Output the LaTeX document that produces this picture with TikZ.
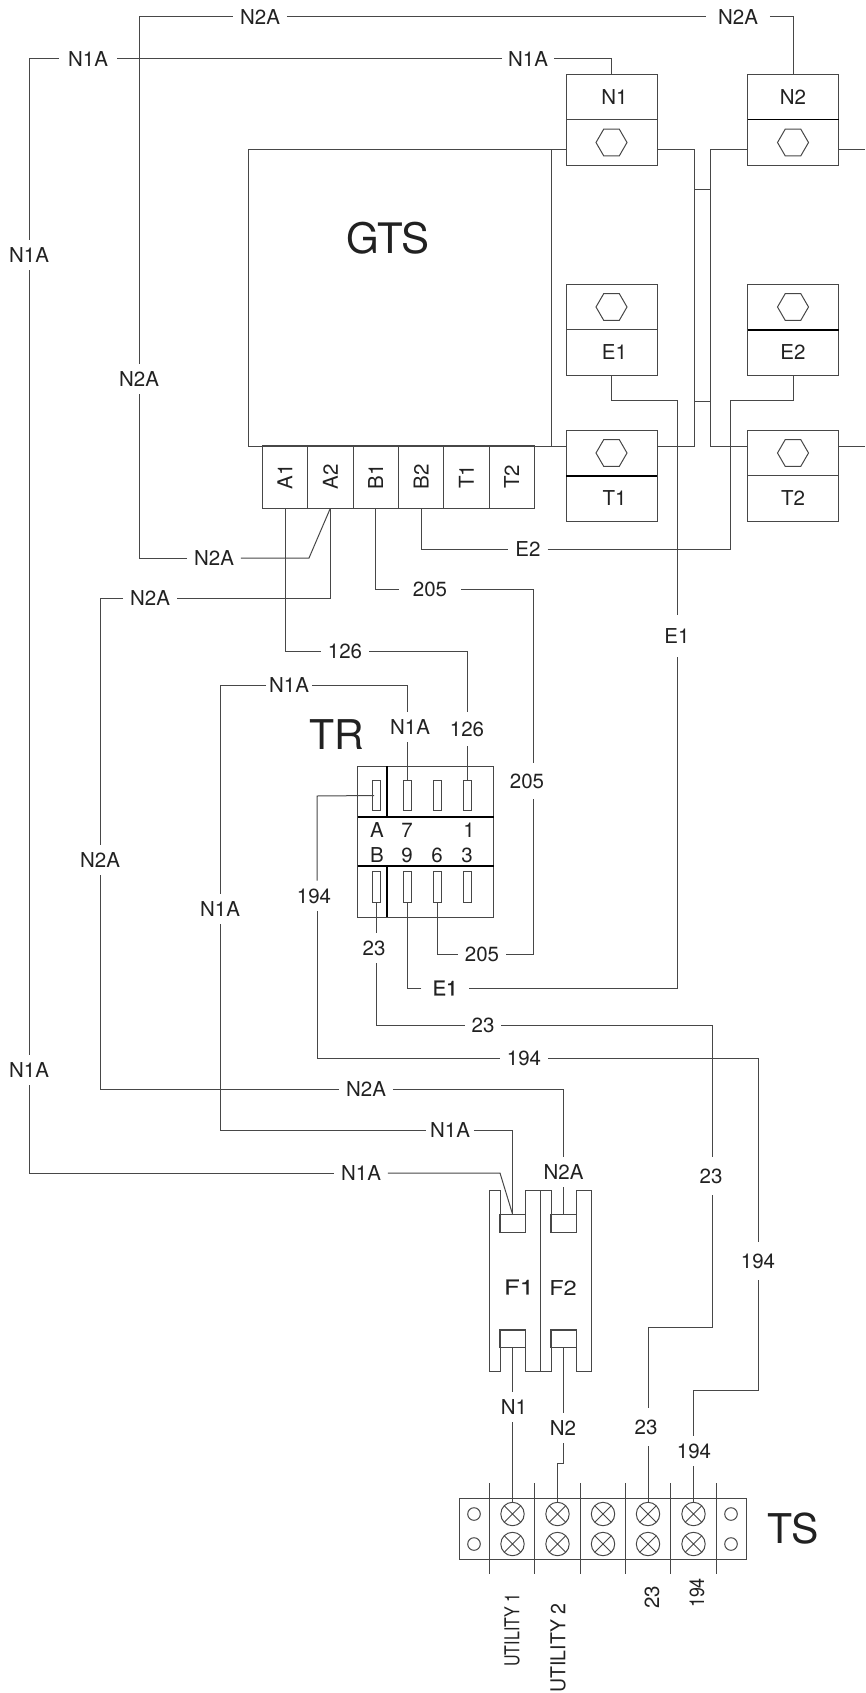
\documentclass[tikz,border=0pt]{standalone}
\usepackage{graphicx}
\usepackage{fontspec}
\setmainfont{TeX Gyre Heros}
\newfontfamily\semibold[FakeBold=0.6]{TeX Gyre Heros}
\usetikzlibrary{positioning,shapes.geometric}
\definecolor{wirecol}{gray}{0.28}
\definecolor{inkcol}{gray}{0.13}

\begin{document}
\begin{tikzpicture}[x=1pt,y=-1pt,line width=1pt,draw=wirecol,text=inkcol,
    lbl/.style={inner xsep=7pt,inner ysep=8pt,outer sep=0pt,font=\fontsize{20.5}{22}\selectfont},
    biglbl/.style={inner sep=0pt,font=\fontsize{41}{42}\selectfont},
    half/.style={draw,rectangle,outer sep=0pt,inner sep=0pt,minimum width=91pt,minimum height=45.5pt,font=\fontsize{20.5}{22}\selectfont},
    bolt/.style={draw,regular polygon,regular polygon sides=6,inner sep=0pt,minimum size=31pt},
    term/.style={draw,rectangle,outer sep=0pt,inner sep=0pt,minimum width=45.35pt,minimum height=62.5pt,font=\fontsize{20.5}{22}\selectfont},
    slot/.style={draw,rectangle,outer sep=0pt,inner sep=0pt,minimum width=8pt,minimum height=30.5pt},
    contact/.style={draw,rectangle,outer sep=0pt,inner sep=0pt,minimum width=25.5pt},
    screw/.style={draw,circle,outer sep=0pt,inner sep=0pt,minimum size=23.4pt,path picture={
        \draw (path picture bounding box.north west) -- (path picture bounding box.south east)
        (path picture bounding box.north east) -- (path picture bounding box.south west);}},
    pin/.style={draw,circle,outer sep=0pt,inner sep=0pt,minimum size=12.6pt},
    heavy/.style={line width=1.5pt,draw=black}]
    \useasboundingbox (0,0) rectangle (865,1693);

    \node [draw, rectangle, outer sep=0pt, minimum width=303pt, minimum height=296pt] (GTS) at (399.5,298) {};
    \node [biglbl, font=\fontsize{42}{43}\selectfont] (GTSname) at (388,238) {GTS};
    \node [half] (N1) at (611.5,97) {\hspace{6pt}N1}; \node [half, below=0pt of N1] (N1bolt) {};
    \node [half] (N2) at (793,97) {N2}; \node [half, below=0pt of N2] (N2bolt) {};
    \node [half] (E1bolt) at (611.5,307) {}; \node [half, below=0pt of E1bolt] (E1) {\hspace{6pt}E1};
    \node [half] (E2bolt) at (793,307) {}; \node [half, below=0pt of E2bolt] (E2) {E2};
    \node [half] (T1bolt) at (611.5,453) {}; \node [half, below=0pt of T1bolt] (T1) {\hspace{6pt}T1};
    \node [half] (T2bolt) at (793,453) {}; \node [half, below=0pt of T2bolt] (T2) {T2};
    \node [bolt] (hexN1) at (N1bolt) {}; \node [bolt] (hexN2) at (N2bolt) {};
    \node [bolt] (hexE1) at (E1bolt) {}; \node [bolt] (hexE2) at (E2bolt) {};
    \node [bolt] (hexT1) at (T1bolt) {}; \node [bolt] (hexT2) at (T2bolt) {};
    \draw [heavy] (N2.south west) -- (N2.south east);
    \draw [heavy] (E2bolt.south west) -- (E2bolt.south east);
    \draw [heavy] (T1bolt.south west) -- (T1bolt.south east);

    \node [term] (tA1) at (285,477) {\rotatebox{90}{A1}};
    \node [term, right=0pt of tA1] (tA2) {\rotatebox{90}{A2}};
    \node [term, right=0pt of tA2] (tB1) {\rotatebox{90}{B1}};
    \node [term, right=0pt of tB1] (tB2) {\rotatebox{90}{B2}};
    \node [term, right=0pt of tB2] (tT1) {\rotatebox{90}{T1}};
    \node [term, right=0pt of tT1] (tT2) {\rotatebox{90}{T2}};

    \draw (GTS.north east) -- (GTS.north east -| N1bolt.west);
    \draw (GTS.south east) -- (GTS.south east -| T1bolt.west);
    \draw (N1bolt.east |- GTS.north) -- (694,150) -- (694,446) -- (T1bolt.east |- GTS.south);
    \draw (N2bolt.west |- GTS.north) -- (710,150) -- (710,446) -- (T2bolt.west |- GTS.south);
    \draw (694,190) -- (710,190); \draw (694,401) -- (710,401);
    \coordinate (N2end) at (865,150); \coordinate (T2end) at (865,446);
    \draw (N2bolt.east |- N2end) -- (N2end); \draw (T2bolt.east |- T2end) -- (T2end);

    \node [biglbl] (TRname) at (337,735) {TR};
    \node [draw, rectangle, outer sep=0pt, minimum width=136pt, minimum height=151pt] (TR) at (425.5,841.5) {};
    \draw [heavy] (TR.west |- 0,817) -- (TR.east |- 0,817);
    \draw [heavy] (TR.west |- 0,866) -- (TR.east |- 0,866);
    \draw [heavy] (387,766) -- (387,817); \draw [heavy] (387,866) -- (387,917);
    \node [slot] (sA) at (376,795.5) {}; \node [slot] (s7) at (407,795.5) {};
    \node [slot] (sE) at (437,795.5) {}; \node [slot] (s1) at (467,795.5) {};
    \node [slot] (sB) at (376,887) {}; \node [slot] (s9) at (407,887) {};
    \node [slot] (s6) at (437,887) {}; \node [slot] (s3) at (467,887) {};
    \node [lbl, inner sep=0pt] (pA) at (377,830) {A}; \node [lbl, inner sep=0pt] (p7) at (407,830) {7};
    \node [lbl, inner sep=0pt] (p1) at (469,830) {1}; \node [lbl, inner sep=0pt] (pB) at (377,855) {B};
    \node [lbl, inner sep=0pt] (p9) at (407,855) {9}; \node [lbl, inner sep=0pt] (p6) at (437,855) {6};
    \node [lbl, inner sep=0pt] (p3) at (467,855) {3};

    \draw (489,1190) -- (500,1190) -- (500,1232) -- (525,1232) -- (525,1190) -- (551,1190)
    -- (551,1232) -- (576,1232) -- (576,1190) -- (591,1190) -- (591,1371) -- (576,1371)
    -- (576,1330) -- (551,1330) -- (551,1371) -- (525,1371) -- (525,1330) -- (500,1330)
    -- (500,1371) -- (489,1371) -- cycle;
    \draw (540,1190) -- (540,1371);
    \node [contact, minimum height=18pt] (F1in) at (512.5,1223) {};
    \node [contact, minimum height=18pt] (F2in) at (563.5,1223) {};
    \node [contact, minimum height=17.5pt] (F1out) at (512.5,1338.5) {};
    \node [contact, minimum height=17.5pt] (F2out) at (563.5,1338.5) {};
    \node [lbl, inner sep=0pt, xscale=1.25, font=\fontsize{20.5}{22}\semibold] (F1) at (519,1287) {F1};
    \node [lbl, inner sep=0pt, xscale=1.15] (F2) at (563,1288) {F2};

    \node [draw, rectangle, outer sep=0pt, minimum width=287pt, minimum height=61pt] (TS) at (602.5,1529) {};
    \node [biglbl] (TSname) at (793,1529) {TS};
    \draw (489.3,1483) -- (489.3,1574); \draw (534.7,1483) -- (534.7,1574);
    \draw (580,1483) -- (580,1574); \draw (625.3,1483) -- (625.3,1574);
    \draw (670.7,1483) -- (670.7,1574); \draw (716,1483) -- (716,1574);
    \node [pin] (pinLa) at (474,1514) {}; \node [pin] (pinLb) at (474,1544) {};
    \node [pin] (pinRa) at (731,1514) {}; \node [pin] (pinRb) at (731,1544) {};
    \node [screw] (scr1a) at (512.5,1514) {}; \node [screw] (scr1b) at (512.5,1544) {};
    \node [screw] (scr2a) at (557.5,1514) {}; \node [screw] (scr2b) at (557.5,1544) {};
    \node [screw] (scr3a) at (603,1514) {}; \node [screw] (scr3b) at (603,1544) {};
    \node [screw] (scr4a) at (648,1514) {}; \node [screw] (scr4b) at (648,1544) {};
    \node [screw] (scr5a) at (693.5,1514) {}; \node [screw] (scr5b) at (693.5,1544) {};
    \node [lbl, inner sep=0pt, rotate=90, xscale=.78] (util1) at (512,1630) {UTILITY 1};
    \node [lbl, inner sep=0pt, rotate=90, xscale=.95] (util2) at (558,1648) {UTILITY 2};
    \node [lbl, inner sep=0pt, rotate=90] (out23) at (652,1597) {23};
    \node [lbl, inner sep=0pt, rotate=90, xscale=.87] (out194) at (697,1593) {194};

    \node [lbl] (lN2Aa) at (260,17) {N2A}; \node [lbl, inner xsep=12pt] (lN2Ab) at (738,17) {N2A};
    \node [lbl] (lN2Ac) at (214,558) {N2A}; \node [lbl] (lN2Ad) at (139,379) {N2A};
    \node [lbl] (lN2Ae) at (150,598) {N2A}; \node [lbl] (lN2Af) at (100,860) {N2A};
    \node [lbl] (lN2Ag) at (366,1089) {N2A}; \node [lbl] (lN2Ah) at (563.5,1172) {N2A};
    \draw (tA2.south) -- (309,558) -- (lN2Ac.east); \draw (lN2Ac.west) -| (lN2Ad.south);
    \draw (lN2Ad.north) |- (lN2Aa.west); \draw (lN2Aa.east) -- (lN2Ab.west);
    \draw (lN2Ab.east) -| (N2.north);
    \draw (tA2.south) |- (lN2Ae.east); \draw (lN2Ae.west) -| (lN2Af.north);
    \draw (lN2Af.south) |- (lN2Ag.west); \draw (lN2Ag.east) -| (lN2Ah.north);
    \draw (lN2Ah.south) -- (F2in.north);

    \node [lbl, inner xsep=9pt] (lN1Aa) at (88,59) {N1A}; \node [lbl, inner xsep=6pt] (lN1Ab) at (528,59) {N1A};
    \node [lbl] (lN1Ac) at (29,255) {N1A}; \node [lbl] (lN1Ad) at (29,1070) {N1A};
    \node [lbl] (lN1Ae) at (361,1173) {N1A}; \node [lbl, inner xsep=3pt] (lN1Af) at (289,685) {N1A};
    \node [lbl] (lN1Ag) at (410,727) {N1A}; \node [lbl] (lN1Ah) at (220,909) {N1A};
    \node [lbl, inner xsep=4pt] (lN1Ai) at (450,1130) {N1A};
    \draw (N1.north) |- (lN1Ab.east); \draw (lN1Ab.west) -- (lN1Aa.east);
    \draw (lN1Aa.west) -| (lN1Ac.north); \draw (lN1Ac.south) -- (lN1Ad.north);
    \draw (lN1Ad.south) |- (lN1Ae.west); \draw (lN1Ae.east) -- (500,1173) -- (F1in.north);
    \draw (s7.north) -- (s7.north |- lN1Ag.south); \draw (s7.north |- lN1Ag.north) |- (lN1Af.east);
    \draw (lN1Af.west) -| (lN1Ah.north); \draw (lN1Ah.south) |- (lN1Ai.west);
    \draw (lN1Ai.east) -| (F1in.north);

    \node [lbl] (l126a) at (345,651) {126}; \node [lbl, inner ysep=10pt] (l126b) at (467,729) {126};
    \draw (tA1.south) |- (l126a.west); \draw (l126a.east) -| (l126b.north); \draw (l126b.south) -- (s1.north);

    \node [lbl, inner xsep=14pt] (l205a) at (430,589) {205}; \node [lbl, inner ysep=11pt] (l205b) at (527,781) {205};
    \node [lbl] (l205c) at (482,954) {205}; \coordinate (c205) at (533,781);
    \draw (tB1.south) |- (l205a.west); \draw (l205a.east) -| (c205 |- l205b.north);
    \draw (c205 |- l205b.south) |- (l205c.east); \draw (l205c.west) -| (s6.south);

    \node [lbl] (lE2) at (528,549) {E2};
    \draw (tB2.south) |- (lE2.west); \draw (lE2.east) -| (730,400) -| (E2.south);

    \node [lbl, inner ysep=14pt] (lE1a) at (677,636) {E1};
    \node [lbl, inner xsep=11pt, font=\fontsize{20.5}{22}\semibold] (lE1b) at (445,988) {E1};
    \draw (E1.south) |- (677,400) -- (lE1a.north); \draw (lE1a.south) |- (lE1b.east);
    \draw (lE1b.west) -| (s9.south);

    \node [lbl] (l23a) at (374,948) {23}; \node [lbl] (l23b) at (483,1025) {23};
    \node [lbl, inner ysep=12pt] (l23c) at (711,1176) {23}; \node [lbl, inner ysep=12pt] (l23d) at (646,1427) {23};
    \draw (sB.south) -- (sB.south |- l23a.north); \draw (sB.south |- l23a.south) |- (l23b.west);
    \draw (l23b.east) -- (712,1025) -- (712,0 |- l23c.north); \draw (712,0 |- l23c.south) -- (712,1327)
    -| (scr4a.north |- l23d.north); \draw (scr4a.north |- l23d.south) -- (scr4a.north);

    \node [lbl] (l194a) at (314,896) {194}; \node [lbl] (l194b) at (524,1058) {194};
    \node [lbl, inner ysep=12pt] (l194c) at (758,1261) {194}; \node [lbl] (l194d) at (694,1451) {194};
    \coordinate (c194) at (317,796);
    \draw ([xshift=2pt]sA.west) -- (c194) -- (c194 |- l194a.north); \draw (c194 |- l194a.south) |- (l194b.west);
    \draw (l194b.east) -| (l194c.north); \draw (l194c.south) -- (758,1390) -| (scr5a.north |- l194d.north);
    \draw (scr5a.north |- l194d.south) -- (scr5a.north);

    \node [lbl] (lN1) at (514,1407) {N1}; \node [lbl] (lN2) at (563,1428) {N2};
    \draw (F1out.south) -- (F1out.south |- lN1.north); \draw (F1out.south |- lN1.south) -- (scr1a.north);
    \draw (F2out.south) -- (F2out.south |- lN2.north); \draw (F2out.south |- lN2.south) -- (563.5,1463)
    -| (scr2a.north);
  \end{tikzpicture}
\end{document}
